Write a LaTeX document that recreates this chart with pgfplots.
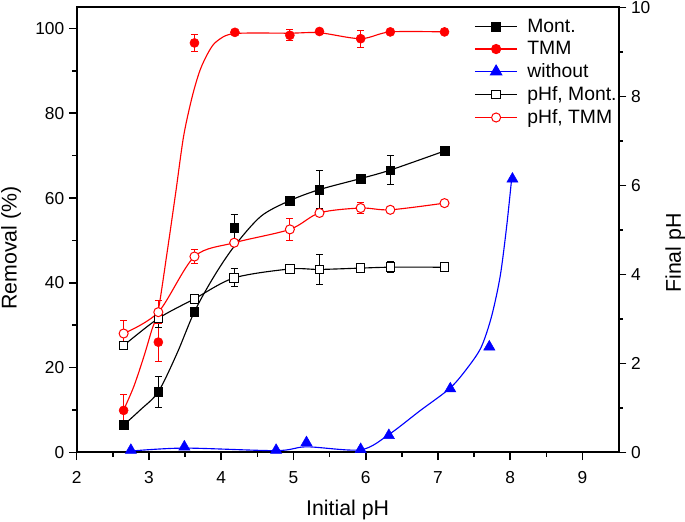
\documentclass[border=0pt]{standalone}
\usepackage{fontspec}
\setmainfont{Liberation Sans}
\usepackage{pgfplots}
\pgfplotsset{compat=1.18}
\begin{document}
\begin{tikzpicture}
\pgfplotsset{
  common/.style={
    width=406.5pt, height=333.75pt, scale only axis,
    xmin=2, xmax=9.5,
    tick align=outside,
    major tick length=5.8pt, minor tick length=3.2pt,
    every tick/.style={black, line width=1.2pt},
    axis line style={line width=1.5pt, -},
    /pgf/number format/assume math mode=true,
    tick label style={font=\fontsize{13}{15}\selectfont},
    label style={font=\fontsize{16}{19}\selectfont},
  },
  eb/.style={error bars/.cd, y dir=both, y explicit,
    error bar style={line width=0.75pt},
    error mark options={rotate=90, mark size=2.6pt, line width=0.75pt}},
}
\begin{axis}[common, name=ax,
  ymin=0, ymax=105,
  xtick={2,...,9}, minor x tick num=1,
  ytick={0,20,...,100}, minor y tick num=1,
  xtick pos=left, ytick pos=left,
  xticklabel style={yshift=-5pt},
  xlabel={Initial pH}, ylabel={Removal (\%)},
  xlabel style={at={(axis description cs:0.5,-0.142)}, anchor=base},
  ylabel style={at={(axis description cs:-0.1107,0.459)}, anchor=base},
]
% fitted curves
\addplot[black, line width=0.85pt, smooth] coordinates {
 (2.65,6.45) (2.88,10.0) (3.13,14.3) (3.39,23.4) (3.63,33.2) (3.90,41.5)
 (4.18,48.6) (4.55,55.7) (4.95,59.4) (5.36,62.0) (5.93,64.6) (6.34,66.6) (7.09,71.1)};
\addplot[red, line width=0.85pt, smooth] coordinates {
 (2.65,10.0) (2.79,15.5) (2.93,22.6) (3.04,28.9) (3.13,33.6) (3.25,47.0)
 (3.37,61.2) (3.48,74.6) (3.60,84.0) (3.71,90.3) (3.83,94.6) (3.94,97.0)
 (4.18,98.8) (4.95,98.9) (5.36,99.0) (5.93,97.6) (6.34,99.2) (7.09,99.2)};
\addplot[blue, line width=0.85pt, smooth] coordinates {
 (2.75,0.3) (3.49,1.0) (4.76,0.4) (5.18,1.3) (5.93,0.6) (6.32,4.2) (6.75,9.8)
 (7.17,15.2) (7.42,20.2) (7.60,24.9) (7.74,32.0) (7.86,41.5) (7.95,53.3) (8.02,64.7)};
% data points
\addplot[black, only marks, mark=square*, mark size=3.2pt, eb] table[x=x, y=y, y error=e] {
x y e
2.65 6.5 1.0
3.13 14.3 3.7
3.63 33.2 0
4.18 53.0 3.0
4.95 59.4 0
5.36 62.0 4.5
5.93 64.6 0
6.34 66.6 3.5
7.09 71.1 0
};
\addplot[red, only marks, mark=*, mark size=3.4pt, eb] table[x=x, y=y, y error=e] {
x y e
2.65 9.9 3.8
3.13 26.0 4.5
3.63 96.6 2.1
4.19 99.1 0.5
4.95 98.4 1.3
5.36 99.3 0.5
5.93 97.6 2.0
6.34 99.2 0.5
7.09 99.2 0
};
\addplot[blue, only marks, mark=triangle*, mark size=4.8pt] table[x=x, y=y] {
x y
2.75 0.5
3.49 1.3
4.76 0.5
5.18 2.3
5.93 0.7
6.32 4.0
7.17 15.0
7.71 24.9
8.03 64.5
};
\end{axis}
\begin{axis}[common,
  ymin=0, ymax=10,
  axis x line=none, axis y line*=right,
  ytick={0,2,...,10}, minor y tick num=1,
  ylabel={Final pH},
  ylabel style={at={(axis description cs:1.115,0.448)}, anchor=base},
  legend style={at={(axis description cs:0.733,0.980)}, anchor=north west,
    draw=none, fill=none, inner sep=0pt,
    font=\fontsize{14.5}{17}\selectfont, row sep=1.2pt, column sep=5pt},
  legend cell align=left,
  legend image code/.code={\draw[mark repeat=2,mark phase=2] plot coordinates {(0pt,0pt) (16pt,0pt) (32pt,0pt)};},
]
\addlegendimage{black, line width=0.85pt, mark=square*, mark size=3.2pt}
\addlegendimage{red, line width=0.85pt, mark=*, mark size=3.4pt}
\addlegendimage{blue, line width=0.85pt, mark=triangle*, mark size=4.8pt}
\addlegendimage{black, line width=0.85pt, mark=square*, mark size=3.2pt, mark options={fill=white, line width=0.75pt}}
\addlegendimage{red, line width=0.85pt, mark=*, mark size=3.4pt, mark options={fill=white, line width=0.75pt}}
\legend{Mont., TMM, without, {pHf, Mont.}, {pHf, TMM}}
\addplot[forget plot, black, line width=0.85pt, smooth, mark=square*, mark size=3.2pt, mark options={fill=white, line width=0.75pt}, eb] table[x=x, y=y, y error=e] {
x y e
2.65 2.40 0.08
3.13 3.01 0.2
3.63 3.45 0
4.18 3.92 0.2
4.95 4.12 0
5.36 4.11 0.33
5.93 4.14 0
6.34 4.16 0.12
7.09 4.16 0
};
\addplot[forget plot, red, line width=0.85pt, smooth, mark=*, mark size=3.4pt, mark options={fill=white, line width=0.75pt}, eb] table[x=x, y=y, y error=e] {
x y e
2.65 2.67 0.3
3.13 3.15 0.26
3.63 4.40 0.15
4.18 4.71 0
4.95 5.01 0.25
5.36 5.38 0
5.93 5.49 0.12
6.34 5.45 0
7.09 5.60 0
};
\end{axis}
\pgfresetboundingbox
\path[use as bounding box] ([shift={(-57.5pt,-51.5pt)}]ax.south west) rectangle ([shift={(456.25pt,339.25pt)}]ax.south west);
\end{tikzpicture}
\end{document}
